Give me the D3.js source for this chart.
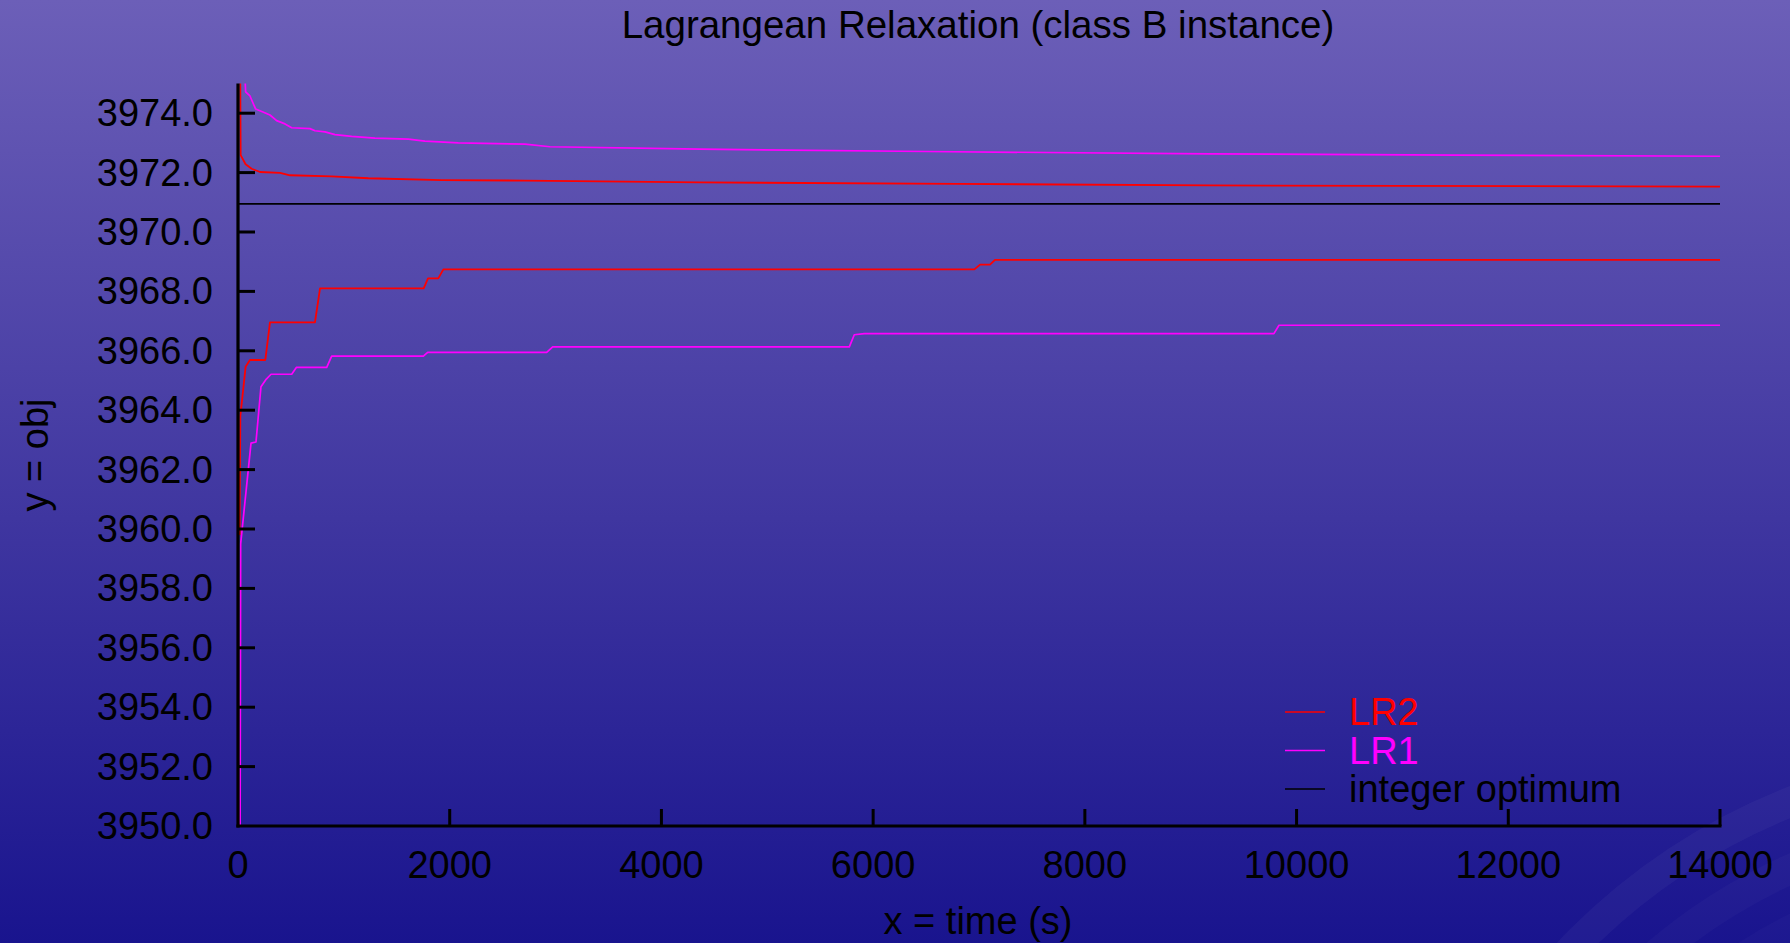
<!DOCTYPE html>
<html>
<head>
<meta charset="utf-8">
<title>Lagrangean Relaxation (class B instance)</title>
<script src="https://cdn.jsdelivr.net/npm/d3@7"></script>
<style>
    html, body { margin: 0; padding: 0; overflow: hidden; background: #1a1590; }
    svg { display: block; font-family: "Liberation Sans", Arial, sans-serif; }
    .tick-label { font-size: 38px; fill: #000; }
    .title { font-size: 38.5px; fill: #000; }
    .axis-line { stroke: #000; stroke-width: 3.2; }
    .tick-mark { stroke: #000; stroke-width: 3; }
</style>
</head>
<body>
<svg id="chart" width="1790" height="943"></svg>
<script>
// ---- data: [time (s), objective] ----
const lr2Upper = [
    [20, 3976], [25, 3972.59], [72, 3972.28], [129, 3972.13], [208, 3972.02],
    [397, 3971.99], [491, 3971.91], [885, 3971.87], [1231, 3971.81], [1924, 3971.75],
    [2711, 3971.73], [4364, 3971.67], [6800, 3971.62], [9182, 3971.57], [11000, 3971.55],
    [14000, 3971.53]
];
const lr1Upper = [
    [45, 3977], [72, 3974.72], [113, 3974.58], [167, 3974.14], [230, 3974.05],
    [302, 3973.94], [365, 3973.75], [444, 3973.64], [507, 3973.51], [680, 3973.48],
    [727, 3973.41], [822, 3973.37], [916, 3973.28], [1074, 3973.22], [1294, 3973.16],
    [1609, 3973.13], [1766, 3973.06], [2081, 3973.0], [2711, 3972.96], [2947, 3972.87],
    [4364, 3972.79], [6500, 3972.71], [9182, 3972.63], [11500, 3972.59], [14000, 3972.55]
];
const lr2Lower = [
    [15, 3959.8], [22, 3963.8], [72, 3965.46], [113, 3965.69], [258, 3965.69],
    [302, 3966.96], [727, 3966.96], [775, 3968.10], [1754, 3968.10], [1795, 3968.44],
    [1892, 3968.44], [1940, 3968.74], [6956, 3968.74], [7010, 3968.90], [7104, 3968.90],
    [7151, 3969.06], [14000, 3969.06]
];
const lr1Lower = [
    [20, 3950], [25, 3959.5], [123, 3962.89], [170, 3962.93], [217, 3964.79],
    [261, 3965.02], [312, 3965.21], [507, 3965.21], [551, 3965.44], [838, 3965.44],
    [885, 3965.82], [1751, 3965.82], [1792, 3965.95], [2916, 3965.95], [2973, 3966.13],
    [5775, 3966.13], [5822, 3966.54], [5917, 3966.58], [9786, 3966.58], [9834, 3966.86],
    [14000, 3966.86]
];
const integerOptimum = [[0, 3970.95], [14000, 3970.95]];

const xTicks = [0, 2000, 4000, 6000, 8000, 10000, 12000, 14000];
const yTicks = [3950, 3952, 3954, 3956, 3958, 3960, 3962, 3964, 3966, 3968, 3970, 3972, 3974];

const legendNames = ["LR2", "LR1", "integer optimum"];
const legendColors = ["#ff0000", "#ff00ff", "#000000"];

(function () {
    "use strict";

    const W = 1790;
    const H = 943;
    const plot = { left: 238, right: 1720, top: 83.5, bottom: 826 };

    const svg = d3.select("#chart");
    const defs = svg.append("defs");

    // background: purple at top fading to deep blue
    const grad = defs.append("linearGradient")
        .attr("id", "bg")
        .attr("x1", 0).attr("y1", 0)
        .attr("x2", 0).attr("y2", 1);
    grad.append("stop").attr("offset", "0%").attr("stop-color", "#6c5fb8");
    grad.append("stop").attr("offset", "55%").attr("stop-color", "#3f36a0");
    grad.append("stop").attr("offset", "100%").attr("stop-color", "#19148e");

    svg.append("rect")
        .attr("width", W)
        .attr("height", H)
        .attr("fill", "url(#bg)");

    // faint swooshes in the bottom-right corner
    const swoosh = svg.append("g").attr("fill", "none");
    [[622, 0.035], [560, 0.025], [505, 0.02]].forEach(function (s) {
        swoosh.append("circle")
            .attr("cx", 2020)
            .attr("cy", 1380)
            .attr("r", s[0])
            .attr("stroke", "#ffffff")
            .attr("stroke-opacity", s[1])
            .attr("stroke-width", 30);
    });

    defs.append("clipPath")
        .attr("id", "plot-clip")
        .append("rect")
        .attr("x", plot.left)
        .attr("y", plot.top)
        .attr("width", plot.right - plot.left)
        .attr("height", plot.bottom - plot.top);

    const x = d3.scaleLinear()
        .domain([0, 14000])
        .range([plot.left, plot.right]);

    const y = d3.scaleLinear()
        .domain([3950, 3975])
        .range([plot.bottom, plot.top]);

    const line = d3.line()
        .x((d) => x(d[0]))
        .y((d) => y(d[1]));

    // Series lines
    const series = [
        { data: integerOptimum, color: "#000000", width: 1.7 },
        { data: lr1Upper, color: "#ff00ff", width: 1.7 },
        { data: lr1Lower, color: "#ff00ff", width: 1.7 },
        { data: lr2Upper, color: "#ff0000", width: 1.8 },
        { data: lr2Lower, color: "#ff0000", width: 1.8 }
    ];
    const lines = svg.append("g").attr("clip-path", "url(#plot-clip)");
    series.forEach(function (s) {
        lines.append("path")
            .datum(s.data)
            .attr("fill", "none")
            .attr("stroke", s.color)
            .attr("stroke-width", s.width)
            .attr("stroke-linejoin", "round")
            .attr("d", line);
    });

    // Axes: thick lines with ticks pointing into the plot
    const axes = svg.append("g");
    axes.append("line")
        .attr("class", "axis-line")
        .attr("x1", plot.left).attr("y1", y(3975))
        .attr("x2", plot.left).attr("y2", plot.bottom + 1.6);
    axes.append("line")
        .attr("class", "axis-line")
        .attr("x1", plot.left - 1.6).attr("y1", plot.bottom)
        .attr("x2", x(14000) + 1.5).attr("y2", plot.bottom);

    axes.selectAll(".y-tick")
        .data(yTicks.slice(1))
        .enter()
        .append("line")
        .attr("class", "tick-mark")
        .attr("x1", plot.left).attr("x2", plot.left + 17)
        .attr("y1", (d) => y(d)).attr("y2", (d) => y(d));

    axes.selectAll(".x-tick")
        .data(xTicks.slice(1))
        .enter()
        .append("line")
        .attr("class", "tick-mark")
        .attr("x1", (d) => x(d)).attr("x2", (d) => x(d))
        .attr("y1", plot.bottom).attr("y2", plot.bottom - 17);

    axes.selectAll(".y-label")
        .data(yTicks)
        .enter()
        .append("text")
        .attr("class", "tick-label")
        .attr("x", plot.left - 25)
        .attr("y", (d) => y(d) + 13)
        .attr("text-anchor", "end")
        .text(d3.format(".1f"));

    axes.selectAll(".x-label")
        .data(xTicks)
        .enter()
        .append("text")
        .attr("class", "tick-label")
        .attr("x", (d) => x(d))
        .attr("y", 878)
        .attr("text-anchor", "middle")
        .text((d) => d);

    // Titles
    svg.append("text")
        .attr("class", "title")
        .attr("x", 978)
        .attr("y", 38)
        .attr("text-anchor", "middle")
        .text("Lagrangean Relaxation (class B instance)");

    svg.append("text")
        .attr("class", "tick-label")
        .attr("x", 978)
        .attr("y", 934)
        .attr("text-anchor", "middle")
        .text("x = time (s)");

    svg.append("text")
        .attr("class", "tick-label")
        .attr("transform", "translate(48,455) rotate(-90)")
        .attr("text-anchor", "middle")
        .text("y = obj");

    // Legend (bottom right, inside the plot)
    const legend = svg.append("g");
    legendNames.forEach(function (name, i) {
        const rowY = 725 + i * 38.5;
        legend.append("line")
            .attr("x1", 1285).attr("x2", 1325)
            .attr("y1", rowY - 13).attr("y2", rowY - 13)
            .attr("stroke", legendColors[i])
            .attr("stroke-width", 1.5);
        legend.append("text")
            .attr("class", "tick-label")
            .attr("x", 1349)
            .attr("y", rowY)
            .style("fill", legendColors[i])
            .text(name);
    });
})();
</script>
</body>
</html>
